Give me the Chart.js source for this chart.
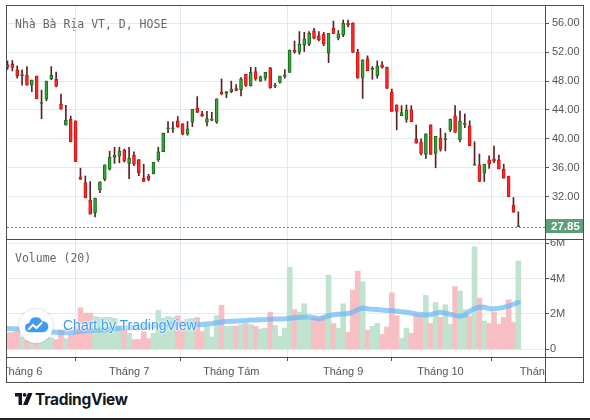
<!DOCTYPE html>
<html>
<head>
<meta charset="utf-8">
<script src="https://cdn.jsdelivr.net/npm/chart.js@4.4.0/dist/chart.umd.min.js"></script>
<style>
  body { margin: 0; background: #fff; }
  #wrap { position: relative; width: 590px; height: 420px; overflow: hidden; font-family: "Liberation Sans", Arial, sans-serif; }
  canvas { position: absolute; }
  .ln { position: absolute; background: #4c4c4c; z-index: 5; }
  .label { position: absolute; font-family: "DejaVu Sans Mono", monospace; font-size: 11.5px; color: #666; z-index: 6; white-space: nowrap; }
  #watermark { position: absolute; left: 19px; top: 309px; z-index: 6; }
  #watermark .circle { position: absolute; left: 0; top: 0; width: 34px; height: 34px; border-radius: 50%; background: #fff; box-shadow: 0 0 2px rgba(0,0,0,0.25); }
  #watermark .txt { position: absolute; left: 44px; top: 8px; font: 14px "Liberation Sans", Arial, sans-serif; color: #3d9cf0; white-space: nowrap;
    text-shadow: 0 0 2px #fff, 0 0 2px #fff, 0 0 3px #fff; }
  #logo { position: absolute; left: 15px; top: 391px; }
  #logo .txt { position: absolute; left: 20px; top: -1px; font: bold 15.5px Inter, "Liberation Sans", Arial, sans-serif; color: #131722; letter-spacing: -0.3px; white-space: nowrap; }
</style>
</head>
<body>
<div id="wrap">
  <canvas id="price-chart" width="577" height="233" style="left:7px;top:6px;width:577px;height:233px"></canvas>
  <canvas id="volume-chart" width="577" height="143" style="left:7px;top:240px;width:577px;height:143px"></canvas>

  <!-- frame -->
  <div class="ln" style="left:6px;top:5px;width:578px;height:1px"></div>
  <div class="ln" style="left:6px;top:382px;width:578px;height:1px"></div>
  <div class="ln" style="left:6px;top:5px;width:1px;height:378px"></div>
  <div class="ln" style="left:583px;top:5px;width:1px;height:378px"></div>
  <div class="ln" style="left:545px;top:5px;width:1px;height:378px"></div>
  <div class="ln" style="left:6px;top:239px;width:578px;height:1px"></div>
  <div class="ln" style="left:6px;top:357px;width:578px;height:1px"></div>
  <div class="ln" style="left:0;top:418px;width:590px;height:2px;background:#222"></div>

  <div class="label" style="left:15px;top:17px">Nhà Bà Rịa VT, D, HOSE</div>
  <div class="label" style="left:15px;top:251px">Volume (20)</div>

  <div id="watermark">
    <div class="circle">
      <svg width="34" height="34" viewBox="0 0 33 33">
        <path d="M9.5 22.5 a4.5 4.5 0 0 1 0.5 -8.9 a6.5 6.5 0 0 1 12.4 -1.6 a5.2 5.2 0 0 1 1.6 10.5 z" fill="#3d9cf0"/>
        <polyline points="9,20 13.5,15.5 17,18.5 22.5,13" fill="none" stroke="#fff" stroke-width="2"/>
      </svg>
    </div>
    <div class="txt">Chart by TradingView</div>
  </div>

  <div id="logo">
    <svg width="18" height="16" viewBox="0 0 18 16">
      <path d="M0 2 H7 V14 H3.5 V5.5 H0 Z" fill="#131722"/>
      <circle cx="9.6" cy="3.8" r="1.9" fill="#131722"/>
      <path d="M13 2 H17.5 L12.5 14 H8 Z" fill="#131722"/>
    </svg>
    <div class="txt">TradingView</div>
  </div>
</div>

<script>
// daily candles, Jun - Oct, one entry per trading day
const open = [
  50.25, 50.4, 49.55, 48.75, 48.8, 47.45, 48.7, 44.9, 45.55, 48.3,
  48.25, 44.8, 41.92, 42.7, 42.5, 34.75, 33.95, 31.55, 29.8, 32.95,
  34.4, 35.8, 37.45, 37.6, 38.45, 36.6, 37.75, 37.15, 34.55, 34.85,
  35.15, 37.1, 38.25, 41.4, 41.4, 42.5, 42.1, 40.7, 42.3, 44.25,
  43.4, 42.3, 42.6, 42.3, 46.5, 46.3, 46.5, 46.95, 46.8, 48.95,
  47.35, 49.3, 48.0, 48.4, 49.85, 47.3, 47.8, 48.65, 49.2, 52.3,
  52.0, 53.0, 53.1, 54.95, 54.25, 54.5, 51.85, 55.3, 53.95, 54.4,
  56.0, 56.05, 52.0, 48.4, 51.1, 49.6, 48.75, 50.25, 49.95, 46.45,
  44.7, 43.2, 42.7, 44.0, 40.0, 39.55, 37.85, 41.95, 38.0, 40.1,
  39.9, 41.25, 43.2, 39.85, 42.0, 41.8, 36.35, 36.4, 35.25, 37.1,
  37.25, 37.1, 35.8, 34.85, 30.85, 27.85
];
const high = [
  50.8, 50.85, 50.1, 49.55, 50.0, 48.15, 48.7, 46.75, 48.0, 50.0,
  49.25, 46.2, 44.65, 43.15, 42.5, 35.95, 34.87, 34.1, 31.8, 34.05,
  36.4, 38.3, 38.85, 38.85, 38.6, 38.85, 38.2, 37.15, 36.5, 35.1,
  36.75, 38.85, 40.8, 42.4, 42.35, 43.1, 42.1, 42.4, 44.1, 45.85,
  43.8, 43.8, 43.7, 45.55, 48.3, 46.55, 48.0, 47.5, 48.5, 48.95,
  49.9, 49.9, 48.7, 49.2, 49.9, 47.7, 48.7, 49.6, 52.3, 53.55,
  54.85, 54.75, 54.85, 55.3, 54.85, 54.75, 54.6, 56.3, 55.0, 56.45,
  56.45, 56.05, 52.4, 50.95, 51.5, 50.0, 50.8, 50.7, 49.95, 46.9,
  44.7, 44.6, 44.7, 44.6, 41.9, 40.0, 40.7, 41.95, 40.35, 41.45,
  40.8, 42.75, 44.6, 43.85, 43.45, 42.5, 39.6, 37.9, 36.5, 37.65,
  39.0, 37.75, 36.5, 34.85, 31.9, 29.9
];
const low = [
  49.6, 49.4, 48.4, 47.45, 47.45, 46.55, 45.55, 42.8, 45.25, 48.2,
  47.2, 44.1, 41.9, 39.6, 36.85, 34.4, 31.85, 29.6, 29.2, 32.55,
  34.2, 35.7, 36.6, 36.7, 36.8, 34.5, 36.3, 34.9, 34.1, 34.2,
  35.15, 36.9, 38.25, 40.85, 40.9, 41.6, 40.55, 40.5, 41.7, 43.65,
  43.1, 41.8, 42.5, 42.15, 46.1, 45.7, 46.4, 46.65, 45.95, 47.25,
  47.3, 48.1, 47.95, 48.1, 47.0, 47.1, 47.7, 48.4, 49.2, 51.85,
  51.7, 52.1, 52.9, 53.85, 53.55, 52.9, 50.55, 54.55, 53.7, 54.15,
  55.5, 51.95, 48.4, 45.6, 49.45, 48.25, 48.4, 49.8, 47.0, 43.8,
  41.25, 43.2, 42.3, 42.4, 39.4, 37.8, 37.3, 37.85, 36.0, 38.3,
  38.35, 41.0, 40.9, 39.6, 41.55, 39.05, 36.35, 34.1, 34.1, 35.9,
  36.7, 35.85, 34.55, 32.0, 29.85, 27.85
];
const close = [
  49.9, 49.9, 48.7, 48.85, 47.45, 48.15, 45.55, 44.9, 48.0, 48.8,
  47.3, 44.1, 42.62, 39.6, 36.85, 34.4, 31.85, 29.6, 31.8, 34.05,
  36.4, 37.45, 37.75, 38.3, 36.95, 37.3, 36.5, 35.3, 34.1, 34.4,
  36.75, 38.2, 40.8, 41.5, 41.5, 41.7, 40.65, 41.4, 44.1, 43.65,
  43.15, 42.8, 42.75, 45.55, 46.25, 46.55, 46.9, 46.7, 48.3, 47.4,
  49.2, 48.3, 48.6, 49.2, 47.1, 47.4, 48.7, 48.85, 52.3, 52.0,
  53.1, 53.85, 54.6, 53.95, 53.7, 53.1, 54.6, 54.6, 54.55, 56.0,
  55.75, 51.95, 48.4, 50.95, 49.45, 49.75, 50.1, 49.9, 47.0, 43.8,
  43.8, 43.65, 44.0, 42.4, 39.4, 38.0, 40.7, 37.85, 40.35, 38.55,
  40.0, 42.75, 40.9, 42.5, 42.1, 39.05, 36.45, 34.1, 36.5, 36.5,
  36.95, 35.85, 34.55, 32.0, 29.85, 27.85
];
// volume in millions of shares
const volume = [
  0.95, 0.95, 1.0, 0.7, 0.5, 0.6, 0.45, 0.7, 0.75, 0.65,
  0.55, 1.1, 0.6, 0.8, 1.3, 2.35, 2.05, 2.05, 1.85, 1.8,
  1.8, 1.8, 1.75, 1.3, 1.1, 0.9, 0.55, 0.55, 1.0, 0.6,
  0.9, 2.2, 1.75, 1.85, 1.8, 1.9, 1.6, 1.7, 1.75, 1.8,
  1.0, 1.3, 0.7, 1.9, 2.5, 1.3, 1.3, 1.3, 1.4, 1.45,
  1.4, 1.3, 1.15, 1.2, 2.1, 1.35, 0.75, 1.2, 4.65, 2.25,
  2.1, 2.58, 1.7, 1.78, 1.72, 1.83, 4.2, 1.46, 1.18, 2.58,
  0.97, 3.36, 4.43, 3.83, 1.08, 1.3, 1.46, 0.84, 1.27, 3.2,
  1.9, 0.62, 1.18, 0.9, 1.96, 1.9, 3.05, 1.46, 2.65, 1.81,
  2.52, 1.4, 3.55, 3.3, 2.24, 1.87, 5.8, 2.9, 1.6, 1.46,
  2.1, 1.4, 1.81, 2.8, 1.53, 5.0
];
// 20 day volume average
const volumeMA = [
  1.17, 1.16, 1.15, 1.13, 1.11, 1.08, 1.06, 1.03, 1.0, 0.98,
  0.96, 0.94, 0.93, 0.95, 0.98, 1.02, 1.05, 1.07, 1.08, 1.08,
  1.1, 1.13, 1.16, 1.19, 1.21, 1.22, 1.23, 1.25, 1.28, 1.3,
  1.33, 1.36, 1.38, 1.4, 1.41, 1.42, 1.42, 1.41, 1.4, 1.4,
  1.4, 1.43, 1.46, 1.5, 1.54, 1.57, 1.59, 1.6, 1.62, 1.63,
  1.65, 1.66, 1.67, 1.68, 1.7, 1.71, 1.72, 1.73, 1.75, 1.78,
  1.8, 1.82, 1.83, 1.78, 1.73, 1.8, 1.9, 1.96, 1.98, 2.0,
  2.02, 2.1, 2.25, 2.34, 2.3, 2.27, 2.25, 2.22, 2.2, 2.19,
  2.16, 2.12, 2.1, 2.05, 2.0, 1.97, 1.94, 1.97, 2.03, 2.1,
  2.05, 1.98, 1.92, 1.87, 1.93, 2.15, 2.3, 2.4, 2.38, 2.3,
  2.3, 2.33, 2.37, 2.45, 2.55, 2.65
];
// bar index where each month starts
const monthTicks = [3, 25, 46, 69, 89, 110];
const monthLabels = ["Tháng 6", "Tháng 7", "Tháng Tám", "Tháng 9", "Tháng 10", "Tháng 11"];
const priceTicks = [32, 36, 40, 44, 48, 52, 56];
const volumeTicks = [0, 2, 4, 6];

const xMin = -0.1, xMax = 110.48;
const gridColor = "#e1eaf0";
const axisText = "#555";
const fontFamily = '"Liberation Sans", Arial, sans-serif';

Chart.defaults.font.family = fontFamily;

var idx = close.map(function (v, i) { return i; });
var up = idx.map(function (i) { return close[i] >= open[i]; });

function monthAxis(showLabels) {
  return {
    type: "linear",
    min: xMin,
    max: xMax,
    offset: false,
    afterBuildTicks: function (s) { s.ticks = monthTicks.map(function (v) { return { value: v }; }); },
    ticks: {
      display: showLabels,
      autoSkip: false,
      maxRotation: 0,
      color: axisText,
      font: { size: 11 },
      padding: 4,
      callback: function (v) { return monthLabels[monthTicks.indexOf(v)]; }
    },
    grid: { color: gridColor, drawTicks: showLabels, tickLength: 4, tickColor: "#555" },
    border: { display: false },
    afterFit: function (s) {
      s.height = showLabels ? 26 : 0;
      s.paddingLeft = 0; s.paddingRight = 0;
    }
  };
}

// dashed line + box for the last close
const lastPriceLine = {
  id: "lastPriceLine",
  afterDatasetsDraw: function (chart) {
    var ctx = chart.ctx, area = chart.chartArea;
    var last = close[close.length - 1];
    var y = Math.round(chart.scales.y.getPixelForValue(last)) + 0.5;
    ctx.save();
    ctx.strokeStyle = "#3f9a66";
    ctx.lineWidth = 1;
    ctx.setLineDash([2, 2]);
    ctx.beginPath();
    ctx.moveTo(area.left, y);
    ctx.lineTo(area.right, y);
    ctx.stroke();
    ctx.setLineDash([]);
    ctx.fillStyle = "#5c9f79";
    ctx.fillRect(area.right + 1, y - 8.5, chart.width - area.right - 2, 14);
    ctx.fillStyle = "#fff";
    ctx.font = "bold 11.5px " + fontFamily;
    ctx.textBaseline = "middle";
    ctx.fillText(last.toFixed(2), area.right + 6, y - 1);
    ctx.restore();
  }
};

// time labels stop at the price scale
const clipTimeLabels = {
  id: "clipTimeLabels",
  afterDraw: function (chart) {
    var a = chart.chartArea;
    chart.ctx.fillStyle = "#fff";
    chart.ctx.fillRect(a.right + 1, a.bottom + 1, chart.width - a.right, chart.height - a.bottom);
  }
};

new Chart(document.getElementById("price-chart"), {
  type: "bar",
  data: {
    datasets: [
      {
        data: idx.map(function (i) { return { x: i, y: [open[i], close[i]] }; }),
        backgroundColor: up.map(function (u) { return u ? "#34a83c" : "#ff2b2b"; }),
        borderColor: up.map(function (u) { return u ? "#166b1a" : "#cf1010"; }),
        borderWidth: 1,
        borderSkipped: false,
        barThickness: 3,
        minBarLength: 1,
        grouped: false,
        order: 0
      },
      {
        data: idx.map(function (i) { return { x: i, y: [low[i], high[i]] }; }),
        backgroundColor: "#5b2222",
        barThickness: 1,
        grouped: false,
        order: 1
      }
    ]
  },
  options: {
    responsive: false,
    animation: false,
    events: [],
    layout: { padding: 0 },
    plugins: { legend: { display: false }, tooltip: { enabled: false } },
    scales: {
      x: monthAxis(false),
      y: {
        position: "right",
        min: 26.15,
        max: 58.39,
        afterBuildTicks: function (s) { s.ticks = priceTicks.map(function (v) { return { value: v }; }); },
        ticks: { color: axisText, font: { size: 11 }, padding: 3, callback: function (v) { return v.toFixed(2); } },
        grid: { color: gridColor, tickColor: "#555", tickLength: 4 },
        border: { display: false },
        afterFit: function (s) { s.width = 39; s.paddingTop = 0; s.paddingBottom = 0; }
      }
    }
  },
  plugins: [lastPriceLine]
});

new Chart(document.getElementById("volume-chart"), {
  type: "bar",
  data: {
    datasets: [
      {
        type: "line",
        data: idx.map(function (i) { return { x: i, y: volumeMA[i] }; }),
        borderColor: "rgba(104, 182, 245, 0.7)",
        borderWidth: 5,
        borderCapStyle: "round",
        borderJoinStyle: "round",
        pointRadius: 0,
        tension: 0,
        order: 0
      },
      {
        data: idx.map(function (i) { return { x: i, y: volume[i] }; }),
        backgroundColor: up.map(function (u) { return u ? "#bfe3cf" : "#f7bfc3"; }),
        barThickness: 5,
        grouped: false,
        order: 1
      }
    ]
  },
  options: {
    responsive: false,
    animation: false,
    events: [],
    layout: { padding: 0 },
    plugins: { legend: { display: false }, tooltip: { enabled: false } },
    scales: {
      x: monthAxis(true),
      y: {
        position: "right",
        min: -0.44,
        max: 6.19,
        afterBuildTicks: function (s) { s.ticks = volumeTicks.map(function (v) { return { value: v }; }); },
        ticks: { color: axisText, font: { size: 11 }, padding: 1, callback: function (v) { return v === 0 ? "0" : v + "M"; } },
        grid: { color: gridColor, tickColor: "#555", tickLength: 4 },
        border: { display: false },
        afterFit: function (s) { s.width = 39; s.paddingTop = 0; s.paddingBottom = 0; }
      }
    }
  },
  plugins: [clipTimeLabels]
});
</script>
</body>
</html>
